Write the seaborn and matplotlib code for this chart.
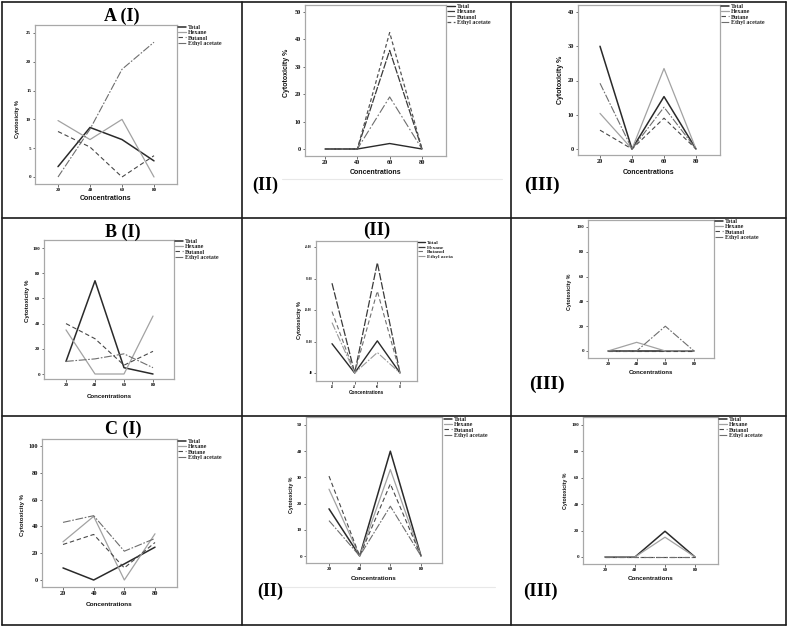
import matplotlib
matplotlib.use("Agg")
import matplotlib.pyplot as plt
from matplotlib.lines import Line2D
import seaborn as sns
import pandas as pd

sns.set_theme(style="ticks")
plt.rcParams['font.family'] = ['Liberation Sans', 'DejaVu Sans']

W, H = 788, 627

# ---------------- data ----------------
concentrations = [20, 40, 60, 80]

names_butanol = ["Total", "Hexane", "Butanol", "Ethyl acetate"]
names_butane = ["Total", "Hexane", "Butane", "Ethyl acetate"]
names_short = ["Total", "Hexane", "Butanol", "Ethyl aceta"]

a1_total = [1.8, 8.6, 6.5, 2.8]
a1_hexane = [9.8, 6.5, 10.0, 0.0]
a1_butanol = [7.9, 5.2, 0.0, 3.7]
a1_ethyl = [0.0, 8.3, 18.7, 23.4]

a2_total = [0.0, 0.0, 2.0, 0.0]
a2_hexane = [0.0, 0.0, 36.0, 0.0]
a2_butanol = [0.0, 0.0, 19.0, 0.0]
a2_ethyl = [0.0, 0.0, 42.5, 0.0]

a3_total = [30.0, 0.0, 15.3, 0.0]
a3_hexane = [10.4, 0.0, 23.5, 0.0]
a3_butane = [5.5, 0.0, 9.0, 0.0]
a3_ethyl = [19.2, 0.0, 12.2, 0.0]

b1_total = [10.0, 74.0, 5.0, 0.0]
b1_hexane = [35.0, 0.0, 0.0, 46.0]
b1_butanol = [40.0, 28.0, 7.0, 18.0]
b1_ethyl = [10.0, 12.0, 16.0, 5.0]

b2_total = [9.3, 0.0, 10.2, 0.0]
b2_hexane = [28.5, 0.0, 35.0, 0.0]
b2_butanol = [19.5, 0.0, 26.0, 0.0]
b2_ethyl = [16.0, 0.0, 6.5, 0.0]

b3_total = [0.0, 0.0, 0.0, 0.0]
b3_hexane = [0.0, 7.0, 0.0, 0.0]
b3_butanol = [0.0, 0.0, 0.0, 0.0]
b3_ethyl = [0.0, 0.0, 20.0, 0.0]

c1_total = [9.0, 0.0, 12.0, 24.5]
c1_hexane = [28.5, 47.5, 0.0, 34.5]
c1_butane = [26.5, 34.0, 9.0, 28.0]
c1_ethyl = [43.0, 48.0, 21.5, 31.0]

c2_total = [18.0, 0.0, 40.0, 0.0]
c2_hexane = [25.5, 0.0, 33.0, 0.0]
c2_butanol = [30.5, 0.0, 27.5, 0.0]
c2_ethyl = [13.5, 0.0, 19.0, 0.0]

c3_total = [0.0, 0.0, 19.5, 0.0]
c3_hexane = [0.0, 0.0, 15.0, 0.0]
c3_butanol = [0.0, 0.0, 0.0, 0.0]
c3_ethyl = [0.0, 0.0, 0.0, 0.0]

yticks_25 = [0, 5, 10, 15, 20, 25]
yticks_40 = [0, 10, 20, 30, 40]
yticks_50 = [0, 10, 20, 30, 40, 50]
yticks_100 = [0, 20, 40, 60, 80, 100]
b2_ytick_labels = [".00", "10.00", "20.00", "30.00", "40.00"]

y_label = "Cytotoxicity %"
x_label = "Concentrations"

# ---------------- styles ----------------
STYLE = [
    dict(color='#2a2a2a', ls='-', lw=1.1),                       # Total
    dict(color='#a2a2a2', ls='-', lw=0.9),                       # Hexane
    dict(color='#484848', ls=(0, (4, 2.5)), lw=0.8),             # Butanol
    dict(color='#6e6e6e', ls=(0, (7, 1.5, 1.5, 1.5)), lw=0.8),   # Ethyl acetate
]
STYLE_A2 = [
    dict(color='#2a2a2a', ls='-', lw=1.0),
    dict(color='#3a3a3a', ls=(0, (6, 1.2)), lw=0.9),
    dict(color='#6e6e6e', ls=(0, (8, 2, 1.5, 2)), lw=0.8),
    dict(color='#555555', ls=(0, (3, 2)), lw=0.9),
]
STYLE_B2 = [
    dict(color='#2a2a2a', ls='-', lw=1.0),
    dict(color='#3a3a3a', ls=(0, (6, 1.5)), lw=0.9),
    dict(color='#707070', ls=(0, (4, 2.5)), lw=0.8),
    dict(color='#9a9a9a', ls=(0, (7, 1.5, 1.5, 1.5)), lw=0.8),
]

# layout: axes box (left, right, top, bottom) px; x20/x80 px; y0 px; (top value, px)
panels = [
    dict(box=(35, 177, 25, 184), x20=58, x80=154, y0=177, ytop=(25, 33),
         series=[a1_total, a1_hexane, a1_butanol, a1_ethyl], names=names_butanol,
         yticks=yticks_25, yticklabels=None, style=STYLE,
         ylab=(18, 119, 4.0), xlab=(199, 5.0), tick=3.6, leg=(178, 25, 4.3)),
    dict(box=(305, 446, 5, 156), x20=325, x80=422, y0=149, ytop=(50, 12),
         series=[a2_total, a2_hexane, a2_butanol, a2_ethyl], names=names_butanol,
         yticks=yticks_50, yticklabels=None, style=STYLE_A2,
         ylab=(287, 73, 5.0), xlab=(173, 5.0), tick=4.5, leg=(447, 4, 4.3)),
    dict(box=(578, 720, 5, 155), x20=600, x80=696, y0=149, ytop=(40, 12),
         series=[a3_total, a3_hexane, a3_butane, a3_ethyl], names=names_butane,
         yticks=yticks_40, yticklabels=None, style=STYLE,
         ylab=(561, 80, 5.0), xlab=(172, 5.0), tick=4.5, leg=(721, 4, 4.3)),
    dict(box=(44, 174, 240, 379), x20=66, x80=153, y0=374, ytop=(100, 248),
         series=[b1_total, b1_hexane, b1_butanol, b1_ethyl], names=names_butanol,
         yticks=yticks_100, yticklabels=None, style=STYLE,
         ylab=(28, 301, 4.4), xlab=(396, 4.4), tick=3.6, leg=(175, 239, 4.3)),
    dict(box=(316, 417, 241, 381), x20=332, x80=400, y0=373, ytop=(40, 247),
         series=[b2_total, b2_hexane, b2_butanol, b2_ethyl], names=names_short,
         yticks=yticks_40, yticklabels=b2_ytick_labels, style=STYLE_B2,
         ylab=(300, 320, 4.0), xlab=(392, 3.4), tick=2.2, leg=(418, 240, 3.9)),
    dict(box=(588, 714, 220, 358), x20=608, x80=694, y0=351, ytop=(100, 227),
         series=[b3_total, b3_hexane, b3_butanol, b3_ethyl], names=names_butanol,
         yticks=yticks_100, yticklabels=None, style=STYLE,
         ylab=(570, 292, 3.8), xlab=(372, 4.3), tick=3.6, leg=(715, 219, 4.3)),
    dict(box=(42, 177, 439, 587), x20=63, x80=155, y0=580, ytop=(100, 446),
         series=[c1_total, c1_hexane, c1_butane, c1_ethyl], names=names_butane,
         yticks=yticks_100, yticklabels=None, style=STYLE,
         ylab=(22, 515, 4.3), xlab=(604, 4.6), tick=4.6, leg=(178, 439, 4.3)),
    dict(box=(306, 442, 417, 563), x20=329, x80=421, y0=556, ytop=(50, 425),
         series=[c2_total, c2_hexane, c2_butanol, c2_ethyl], names=names_butanol,
         yticks=yticks_50, yticklabels=None, style=STYLE,
         ylab=(292, 495, 3.8), xlab=(578, 4.5), tick=3.6, leg=(444, 417, 4.3)),
    dict(box=(583, 718, 417, 564), x20=605, x80=695, y0=557, ytop=(100, 425),
         series=[c3_total, c3_hexane, c3_butanol, c3_ethyl], names=names_butanol,
         yticks=yticks_100, yticklabels=None, style=STYLE,
         ylab=(565, 491, 3.8), xlab=(579, 4.5), tick=3.6, leg=(719, 417, 4.3)),
]

# panel labels: text, x center px, y center px, size
panel_labels = [
    ("A (I)", 122, 16, 13), ("(II)", 265, 185, 13), ("(III)", 542, 185, 14),
    ("B (I)", 123, 232, 13), ("(II)", 377, 230, 13.5), ("(III)", 547, 384, 14),
    ("C (I)", 123, 429, 13), ("(II)", 270, 591, 13), ("(III)", 540, 591, 13.5),
]

fig = plt.figure(figsize=(W / 100, H / 100), dpi=100)
fig.patch.set_facecolor('white')


def fx(px):
    return px / W


def fy(py):
    return 1 - py / H


for p in panels:
    L, R, T, B = p['box']
    ax = fig.add_axes([fx(L), fy(B), (R - L) / W, (B - T) / H])
    for vals, name, st in zip(p['series'], p['names'], p['style']):
        df = pd.DataFrame({'conc': concentrations, 'val': vals})
        sns.lineplot(data=df, x='conc', y='val', ax=ax, color=st['color'],
                     linestyle=st['ls'], linewidth=st['lw'], label=name,
                     legend=False)
    # scales from pixel layout
    xs = (p['x80'] - p['x20']) / 60.0
    ax.set_xlim(20 - (p['x20'] - L) / xs, 80 + (R - p['x80']) / xs)
    yv, ypx = p['ytop']
    ys = (p['y0'] - ypx) / yv
    ax.set_ylim(-(B - p['y0']) / ys, yv + (ypx - T) / ys)
    ax.set_xticks(concentrations)
    ax.set_yticks(p['yticks'])
    if p['yticklabels'] is not None:
        ax.set_yticklabels(p['yticklabels'])
    ax.tick_params(axis='both', length=1.8, width=0.5, color='#333333',
                   pad=1.0, labelsize=p['tick'], labelcolor='#111111')
    for lab in ax.get_xticklabels() + ax.get_yticklabels():
        lab.set_fontfamily('Liberation Serif')
        lab.set_fontweight('bold')
    for sp in ax.spines.values():
        sp.set_visible(True)
        sp.set_color('#a8a8a8')
        sp.set_linewidth(0.9)
    ax.set_facecolor('white')
    # axis labels
    lx, ly, ls_ = p['ylab']
    ax.set_ylabel(y_label, fontsize=ls_, fontweight='bold', color='#111111')
    ax.yaxis.set_label_coords((lx - L) / (R - L), (B - ly) / (B - T))
    ax.yaxis.label.set_va('center')
    xly, xls = p['xlab']
    ax.set_xlabel(x_label, fontsize=xls, fontweight='bold', color='#111111')
    ax.xaxis.set_label_coords(0.5, (B - xly) / (B - T))
    ax.xaxis.label.set_va('center')
    # legend
    gx, gy, gs = p['leg']
    ax.legend(handles=ax.get_lines(), labels=p['names'], loc='upper left',
              bbox_to_anchor=(fx(gx), fy(gy)), bbox_transform=fig.transFigure,
              frameon=False, borderpad=0, borderaxespad=0, labelspacing=0.0,
              handlelength=1.35, handletextpad=0.25,
              prop={'family': 'Liberation Serif', 'weight': 'bold', 'size': gs})

# panel labels
for txt, x, y, s in panel_labels:
    fig.text(fx(x), fy(y), txt, ha='center', va='center', fontsize=s,
             fontweight='bold', family='Liberation Serif', color='black')

# faint separator lines under some plots
for (x0, x1, y) in [(282, 502, 179), (282, 495, 587)]:
    fig.add_artist(Line2D([fx(x0), fx(x1)], [fy(y), fy(y)], transform=fig.transFigure,
                          color='#e8e8e8', lw=0.8))

# grid borders
border_kw = dict(transform=fig.transFigure, color='#1a1a1a', lw=1.2)
for x in [2, 242, 511, 786]:
    fig.add_artist(Line2D([fx(x), fx(x)], [fy(2), fy(625)], **border_kw))
for y in [2, 218, 416, 625]:
    fig.add_artist(Line2D([fx(2), fx(786)], [fy(y), fy(y)], **border_kw))

fig.savefig("out.png", dpi=100, facecolor='white')
